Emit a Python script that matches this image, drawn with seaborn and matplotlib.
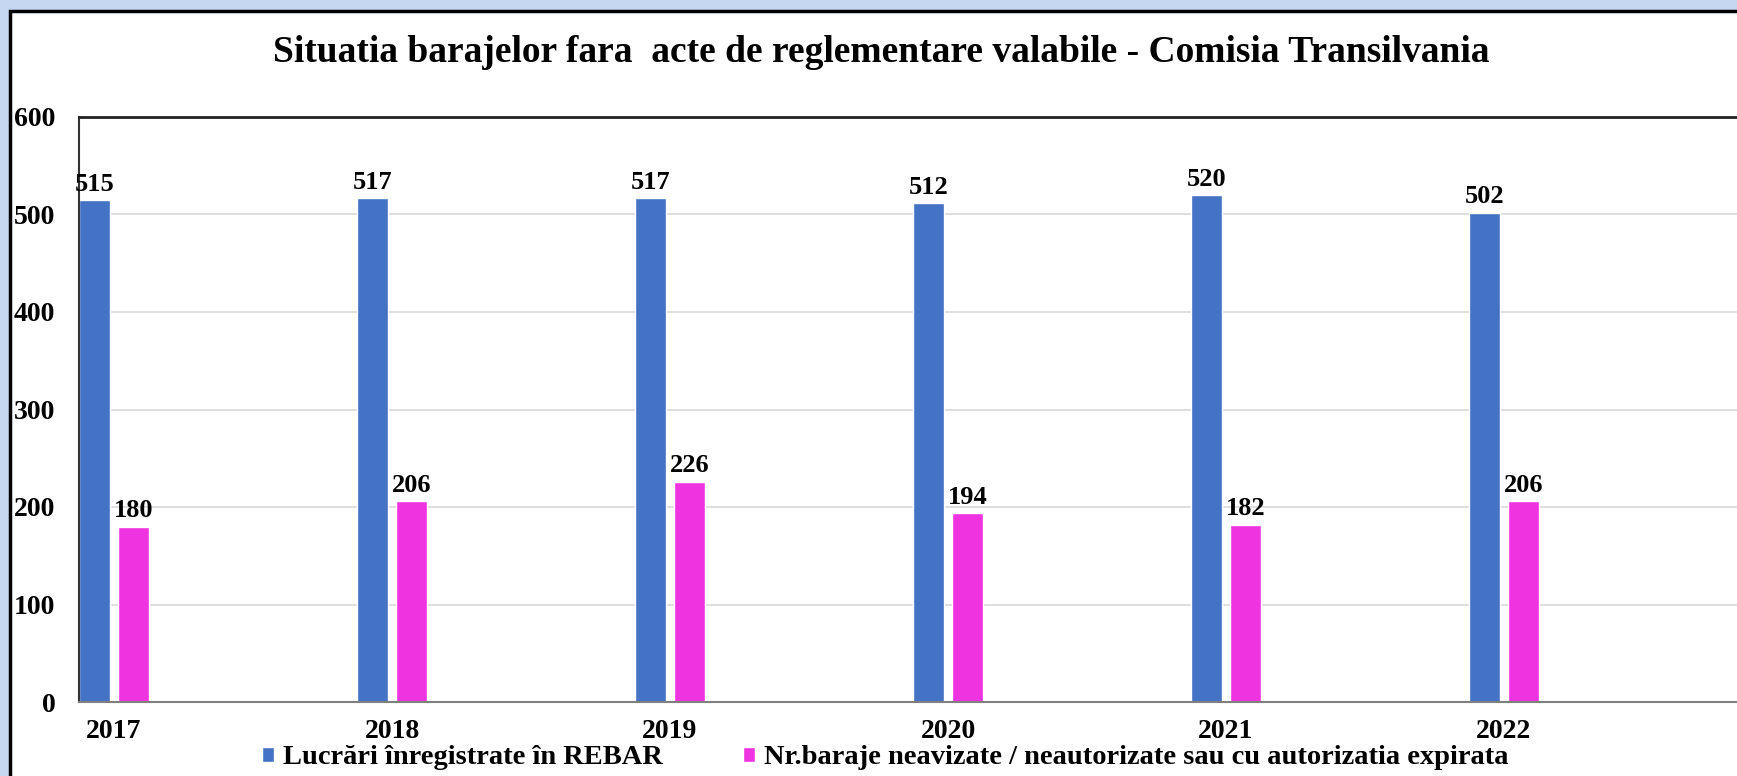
import pandas as pd
import seaborn as sns
import matplotlib.pyplot as plt
from matplotlib.patches import Rectangle

# Data
years = ["2017", "2018", "2019", "2020", "2021", "2022"]
rebar = [515, 517, 517, 512, 520, 502]
neavizate = [180, 206, 226, 194, 182, 206]
series_names = ["Lucrări înregistrate în REBAR",
                "Nr.baraje neavizate / neautorizate sau cu autorizatia expirata"]
colors = ["#4472C4", "#EF33E0"]
title = "Situatia barajelor fara  acte de reglementare valabile - Comisia Transilvania"

df = pd.DataFrame({
    "an": years * 2,
    "valoare": rebar + neavizate,
    "serie": [series_names[0]] * len(years) + [series_names[1]] * len(years),
})

sns.set_theme(style="white")
plt.rcParams["font.family"] = ["Liberation Serif", "DejaVu Serif"]
plt.rcParams["font.weight"] = "bold"
plt.rcParams["text.color"] = "black"
plt.rcParams["xtick.color"] = "black"
plt.rcParams["ytick.color"] = "black"

W, H = 1737, 776
fig = plt.figure(figsize=(W / 100, H / 100), dpi=100)
fig.patch.set_facecolor("#C6D7F2")

# white chart area with black frame (cut off at right/bottom like the screenshot)
fig.add_artist(Rectangle((10 / W, -0.05), 1.2, 1.05 - 11 / H,
                         transform=fig.transFigure, facecolor="white",
                         edgecolor="black", linewidth=2.5, zorder=-1))

ax = fig.add_axes([79 / W, 1 - 702 / H, 1 - 79 / W, (702 - 117) / H])
sns.barplot(data=df, x="an", y="valoare", hue="serie", palette=colors,
            width=0.28, gap=0.21, saturation=1, ax=ax)

for cont in ax.containers:
    ax.bar_label(cont, fmt="%d", padding=3, fontsize=19, fontweight="bold",
                 color="black")

ax.set_xlim(-0.126, 5.838)
ax.set_ylim(0, 600)
ax.set_yticks(range(0, 601, 100))
ax.yaxis.grid(True, color="#D9D9D9", linewidth=1.2)
ax.set_axisbelow(True)
ax.set_xlabel("")
ax.set_ylabel("")
ax.tick_params(axis="y", length=0, pad=17, labelsize=20, labelcolor="black")
ax.tick_params(axis="x", length=0, pad=12, labelsize=20, labelcolor="black")

ax.spines["top"].set_color("#222222")
ax.spines["top"].set_linewidth(2)
ax.spines["left"].set_color("#333333")
ax.spines["left"].set_linewidth(1.5)
ax.spines["bottom"].set_color("#808080")
ax.spines["bottom"].set_linewidth(1.5)
ax.spines["right"].set_visible(False)

leg = ax.legend(loc="center", bbox_to_anchor=(885 / W, 1 - 758 / H),
                bbox_transform=fig.transFigure, ncol=2, frameon=False,
                handlelength=0.45, handleheight=0.45, handletextpad=0.3,
                columnspacing=2.8, prop=dict(weight="bold", size=20.5))
for t in leg.get_texts():
    t.set_color("black")

fig.text(881 / W, 1 - 53 / H, title, ha="center", va="center",
         fontsize=27, fontweight="bold", color="black")

plt.savefig("out.png", dpi=100)
